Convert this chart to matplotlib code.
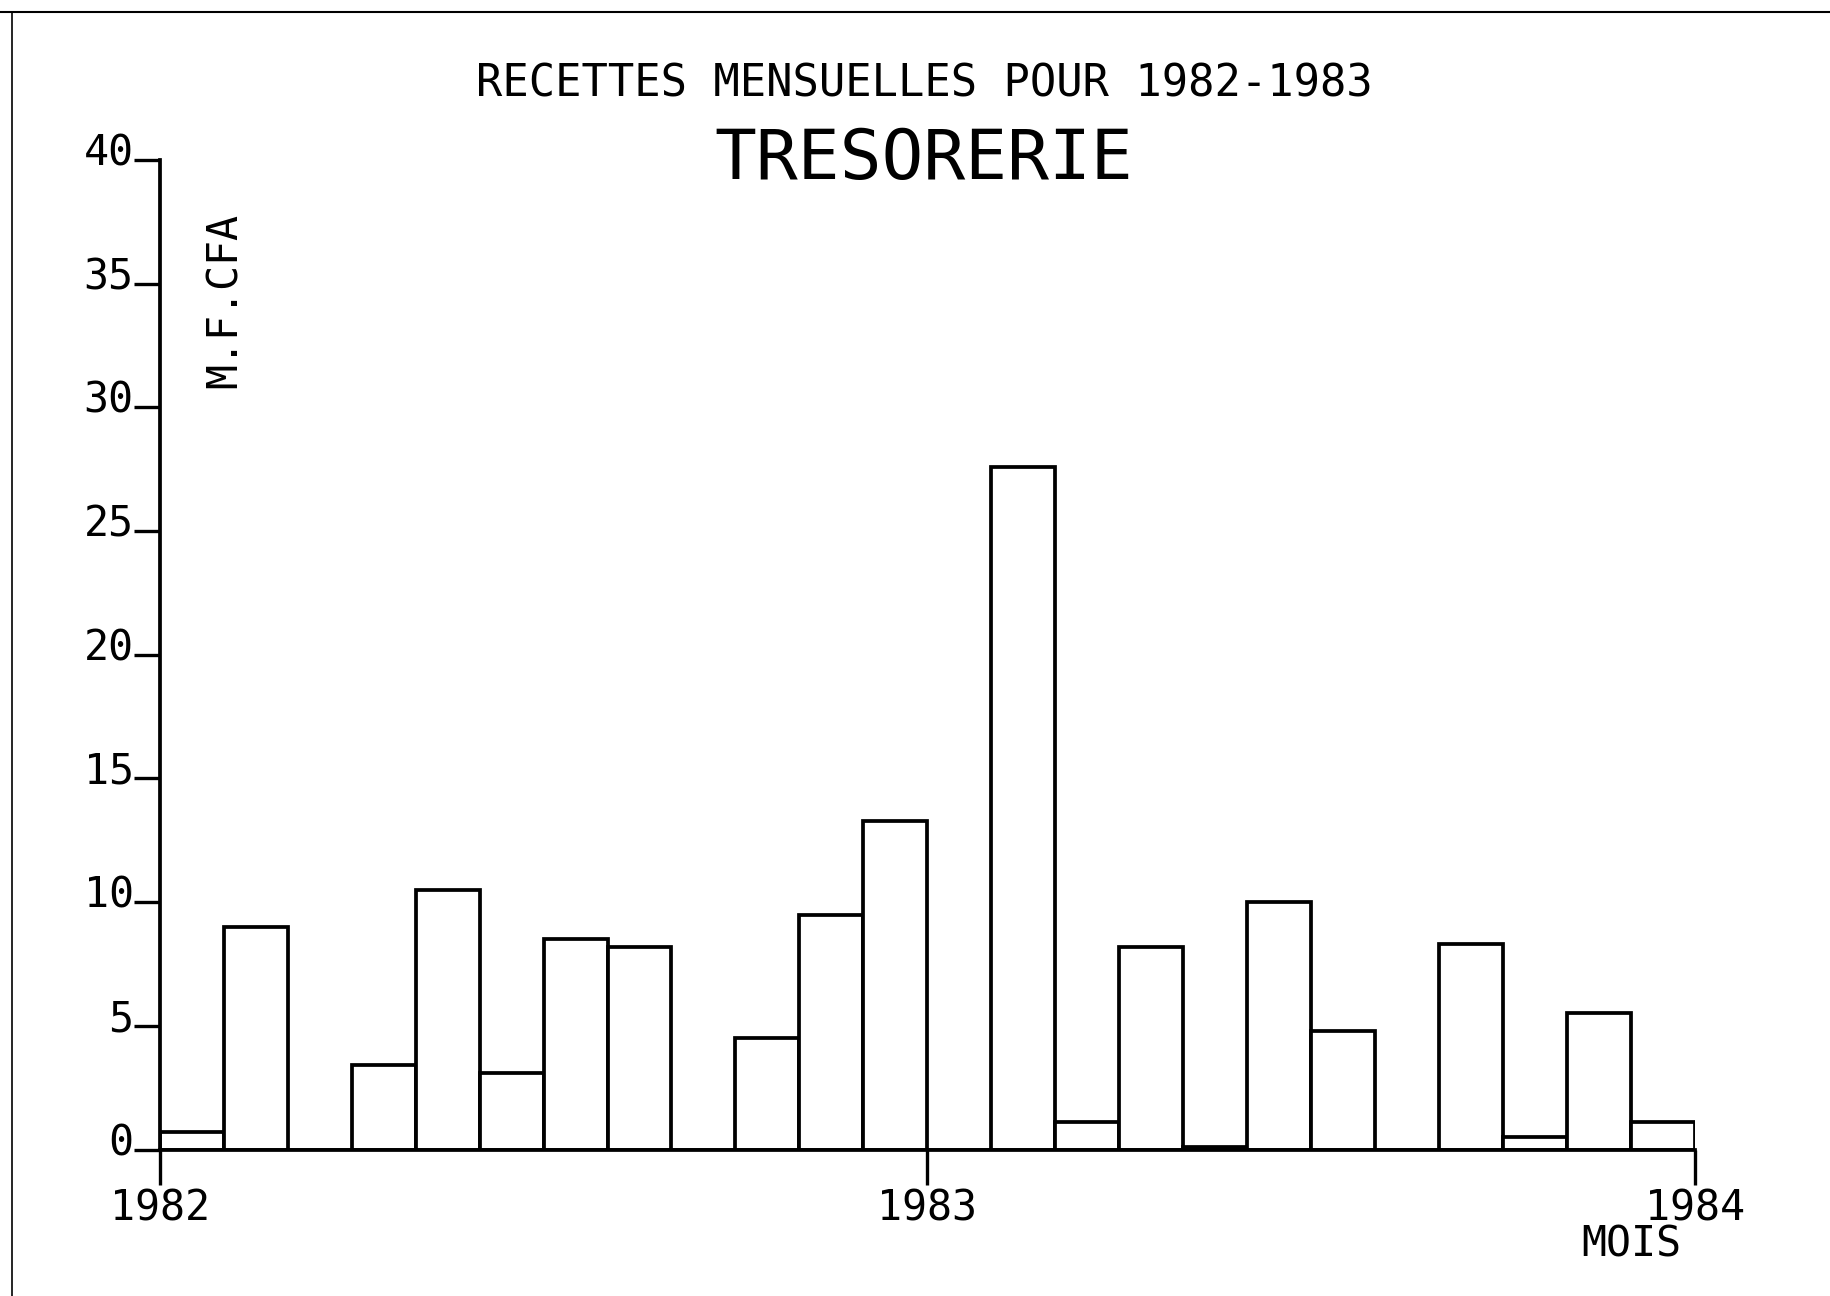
import matplotlib
matplotlib.use("Agg")
import matplotlib.pyplot as plt
import matplotlib.transforms as mtransforms
from matplotlib.lines import Line2D
import numpy as np

# monthly receipts, Jan 1982 .. Dec 1983 (millions F CFA)
MONTHS = list(range(24))
RECETTES = [0.7, 9.0, 0.0, 3.4, 10.5, 3.1, 8.5, 8.2, 0.0, 4.5, 9.5, 13.3,
            0.0, 27.6, 1.1, 8.2, 0.1, 10.0, 4.8, 0.0, 8.3, 0.5, 5.5, 1.1]
Y_TICKS = [0, 5, 10, 15, 20, 25, 30, 35, 40]
X_TICKS = [0, 12, 24]
X_LABELS = ["1982", "1983", "1984"]

FONT = "DejaVu Sans Mono"
plt.rcParams["font.family"] = [FONT]


def main():
    fig = plt.figure(figsize=(18.3, 12.96), dpi=100)
    ax = fig.add_axes([0.0874, 0.113, 0.8386, 0.7636])

    ax.bar(MONTHS, RECETTES, width=1.0, align="edge", color="white",
           edgecolor="black", linewidth=2.7)

    ax.set_xlim(0, 24)
    ax.set_ylim(0, 40)
    for s in ["top", "right"]:
        ax.spines[s].set_visible(False)
    ax.spines["left"].set_linewidth(2.7)
    ax.spines["bottom"].set_linewidth(2.7)

    ax.set_yticks(Y_TICKS)
    ax.set_yticklabels([str(v) for v in Y_TICKS], va="baseline")
    ax.tick_params(axis="y", length=19, width=2.4, pad=0, labelsize=30)
    # plotter labels sit just on the tick line, nudge them down a bit
    shift = mtransforms.ScaledTranslation(0, -4 / 72, fig.dpi_scale_trans)
    for lbl in ax.get_yticklabels():
        lbl.set_transform(lbl.get_transform() + shift)
    ax.set_xticks(X_TICKS)
    ax.set_xticklabels(X_LABELS)
    ax.tick_params(axis="x", length=25, width=2.4, pad=2, labelsize=30)

    fig.text(0.505, 0.935, "RECETTES MENSUELLES POUR 1982-1983",
             ha="center", va="center", fontsize=31.5)
    fig.text(0.505, 0.877, "TRESORERIE", ha="center", va="center", fontsize=50)
    fig.text(0.123, 0.768, "M.F.CFA", rotation=90, ha="center", va="center",
             fontsize=30)
    fig.text(0.8915, 0.040, "MOIS", ha="center", va="center", fontsize=30)

    # frame of the scanned sheet
    fig.add_artist(Line2D([0.0, 1.0], [0.991, 0.991], transform=fig.transFigure,
                          color="black", linewidth=1.5))
    fig.add_artist(Line2D([0.0065, 0.0065], [0.0, 0.991], transform=fig.transFigure,
                          color="black", linewidth=1.2))

    fig.savefig("out.png", dpi=100)
    plt.close(fig)


if __name__ == "__main__":
    main()
